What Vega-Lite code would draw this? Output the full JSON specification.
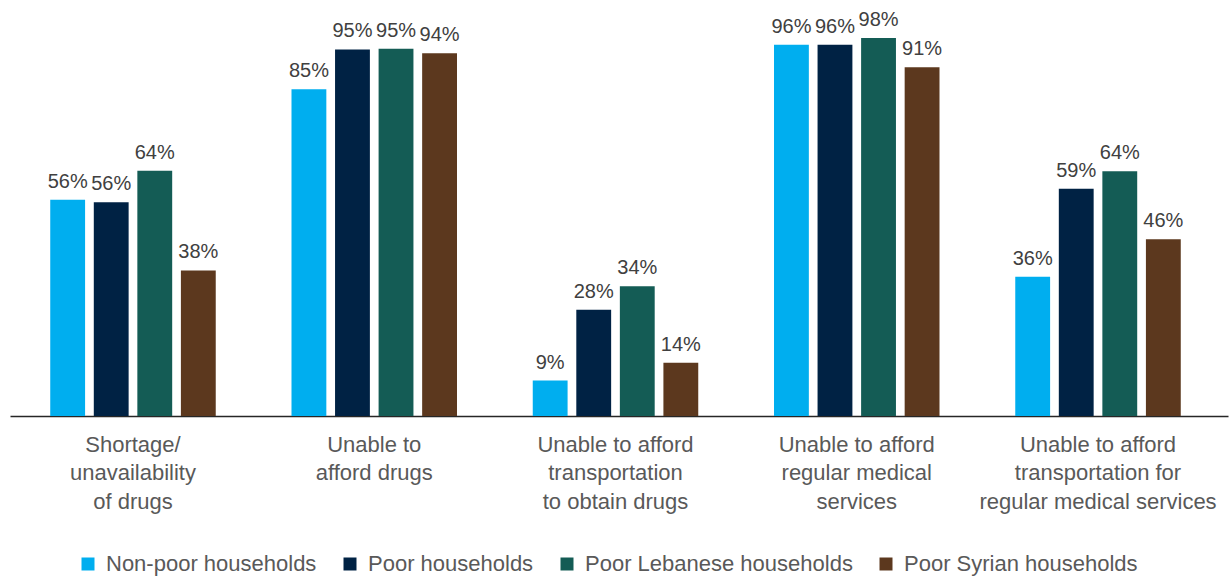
{
  "$schema": "https://vega.github.io/schema/vega-lite/v6.json",
  "width": 1218,
  "height": 385,
  "autosize": {"type": "none"},
  "padding": {"left": 10, "top": 31, "right": 2, "bottom": 161},
  "background": "white",
  "config": {"view": {"stroke": null}, "font": "Liberation Sans"},
  "data": {"values": [
    {"cat": "Shortage/|unavailability|of drugs", "group": "Non-poor households", "value": 0.562},
    {"cat": "Shortage/|unavailability|of drugs", "group": "Poor households", "value": 0.555},
    {"cat": "Shortage/|unavailability|of drugs", "group": "Poor Lebanese households", "value": 0.637},
    {"cat": "Shortage/|unavailability|of drugs", "group": "Poor Syrian households", "value": 0.378},
    {"cat": "Unable to|afford drugs", "group": "Non-poor households", "value": 0.849},
    {"cat": "Unable to|afford drugs", "group": "Poor households", "value": 0.952},
    {"cat": "Unable to|afford drugs", "group": "Poor Lebanese households", "value": 0.954},
    {"cat": "Unable to|afford drugs", "group": "Poor Syrian households", "value": 0.942},
    {"cat": "Unable to afford|transportation|to obtain drugs", "group": "Non-poor households", "value": 0.092},
    {"cat": "Unable to afford|transportation|to obtain drugs", "group": "Poor households", "value": 0.276},
    {"cat": "Unable to afford|transportation|to obtain drugs", "group": "Poor Lebanese households", "value": 0.337},
    {"cat": "Unable to afford|transportation|to obtain drugs", "group": "Poor Syrian households", "value": 0.138},
    {"cat": "Unable to afford|regular medical|services", "group": "Non-poor households", "value": 0.964},
    {"cat": "Unable to afford|regular medical|services", "group": "Poor households", "value": 0.964},
    {"cat": "Unable to afford|regular medical|services", "group": "Poor Lebanese households", "value": 0.982},
    {"cat": "Unable to afford|regular medical|services", "group": "Poor Syrian households", "value": 0.906},
    {"cat": "Unable to afford|transportation for|regular medical services", "group": "Non-poor households", "value": 0.362},
    {"cat": "Unable to afford|transportation for|regular medical services", "group": "Poor households", "value": 0.59},
    {"cat": "Unable to afford|transportation for|regular medical services", "group": "Poor Lebanese households", "value": 0.636},
    {"cat": "Unable to afford|transportation for|regular medical services", "group": "Poor Syrian households", "value": 0.459}
  ]},
  "encoding": {
    "x": {
      "field": "cat", "type": "nominal", "sort": null, "title": null,
      "scale": {"paddingInner": 0.314, "paddingOuter": 0.1813, "align": 0.46},
      "axis": {
        "labelAngle": 0, "labelExpr": "split(datum.label, '|')",
        "labelFontSize": 22, "labelColor": "#595959", "labelLineHeight": 28.5,
        "labelPadding": 18, "ticks": false, "domainColor": "#262626", "domainWidth": 1.5,
        "labelBaseline": "top", "labelLimit": 300
      }
    },
    "xOffset": {"field": "group", "type": "nominal", "sort": null, "scale": {"paddingInner": 0.2, "paddingOuter": 0}},
    "y": {"field": "value", "type": "quantitative", "scale": {"domain": [0, 1]}, "axis": null}
  },
  "layer": [
    {
      "mark": {"type": "bar"},
      "encoding": {
        "color": {
          "field": "group", "type": "nominal", "sort": null,
          "scale": {
            "domain": ["Non-poor households", "Poor households", "Poor Lebanese households", "Poor Syrian households"],
            "range": ["#00AEEF", "#002244", "#145C55", "#5C381E"]
          },
          "legend": {
            "orient": "none", "legendX": 67, "legendY": 522, "direction": "horizontal",
            "title": null, "symbolType": "square", "symbolSize": 169,
            "labelFontSize": 22, "labelColor": "#595959", "columnPadding": 22,
            "symbolStrokeWidth": 0, "labelOffset": 7, "labelLimit": 400
          }
        }
      }
    },
    {
      "mark": {"type": "text", "baseline": "alphabetic", "dy": -12, "fontSize": 20, "color": "#404040"},
      "encoding": {"text": {"field": "value", "type": "quantitative", "format": ".0%"}}
    }
  ]
}
